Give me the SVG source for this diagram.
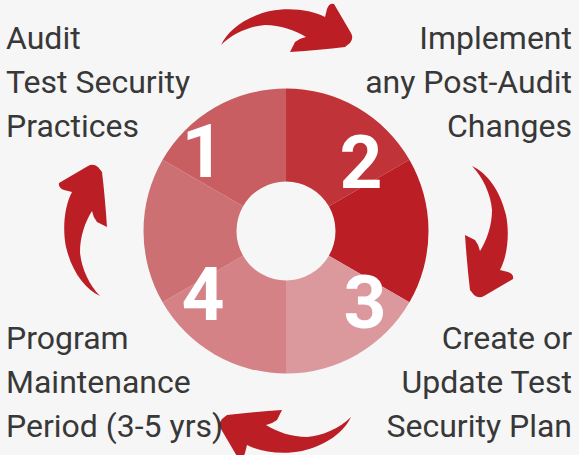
<svg xmlns="http://www.w3.org/2000/svg" xmlns:xlink="http://www.w3.org/1999/xlink" width="579" height="455" viewBox="0 0 579 455">
  <style>
    .lbl { font-family: Roboto, "Liberation Sans", sans-serif; font-size: 32px; fill: #383838; }
    .num { font-family: Roboto, "Liberation Sans", sans-serif; font-size: 75px; font-weight: 700; fill: #ffffff; text-anchor: middle; }
    .arrow { fill: #BB1F25; }
    .end { text-anchor: end; }
  </style>
  <defs>
    <path id="arr" d="M221,45 C228,30 245,17 270,11 C290,7 312,10 325,17 L327,9 Q329,3 334,4 L351,33 Q354,38 350,43 L345,47 Q320,50 290,52 L295,42 Q300,38 306,37 C295,30 280,25 265,25 C250,26 232,34 221,45 Z"/>
  </defs>
  <rect width="579" height="455" fill="#F6F6F6"/>

  <g id="donut">
    <path id="seg2" fill="#C03338" d="M286,88.5 A142.5,142.5 0 0 1 409.41,159.75 L328.87,206.25 A49.5,49.5 0 0 0 286,181.5 Z"/>
    <path id="segR" fill="#BB1F25" d="M409.41,159.75 A142.5,142.5 0 0 1 409.41,302.25 L328.87,255.75 A49.5,49.5 0 0 0 328.87,206.25 Z"/>
    <path id="seg3" fill="#DB999D" d="M409.41,302.25 A142.5,142.5 0 0 1 286,373.5 L286,280.5 A49.5,49.5 0 0 0 328.87,255.75 Z"/>
    <path id="seg4" fill="#D48286" d="M286,373.5 A142.5,142.5 0 0 1 162.59,302.25 L243.13,255.75 A49.5,49.5 0 0 0 286,280.5 Z"/>
    <path id="segL" fill="#CC7074" d="M162.59,302.25 A142.5,142.5 0 0 1 162.59,159.75 L243.13,206.25 A49.5,49.5 0 0 0 243.13,255.75 Z"/>
    <path id="seg1" fill="#C95E62" d="M162.59,159.75 A142.5,142.5 0 0 1 286,88.5 L286,181.5 A49.5,49.5 0 0 0 243.13,206.25 Z"/>
    <text class="num" x="203" y="177">1</text>
    <text class="num" x="361" y="188">2</text>
    <text class="num" x="365" y="328">3</text>
    <text class="num" x="203" y="320">4</text>
  </g>

  <g id="connectors">
    <use xlink:href="#arr" class="arrow"/>
    <use xlink:href="#arr" class="arrow" transform="rotate(90 286 231)"/>
    <use xlink:href="#arr" class="arrow" transform="rotate(180 286 231)"/>
    <use xlink:href="#arr" class="arrow" transform="rotate(270 286 231)"/>
  </g>

  <g id="step1">
    <text class="lbl" x="6" y="49">Audit</text>
    <text class="lbl" x="6" y="93">Test Security</text>
    <text class="lbl" x="6" y="137">Practices</text>
  </g>
  <g id="step2">
    <text class="lbl end" x="572" y="49">Implement</text>
    <text class="lbl end" x="572" y="93">any Post-Audit</text>
    <text class="lbl end" x="572" y="137">Changes</text>
  </g>
  <g id="step3">
    <text class="lbl end" x="572" y="349">Create or</text>
    <text class="lbl end" x="572" y="393">Update Test</text>
    <text class="lbl end" x="572" y="437">Security Plan</text>
  </g>
  <g id="step4">
    <text class="lbl" x="6" y="349">Program</text>
    <text class="lbl" x="6" y="393">Maintenance</text>
    <text class="lbl" x="6" y="437">Period (3-5 yrs)</text>
  </g>
</svg>
